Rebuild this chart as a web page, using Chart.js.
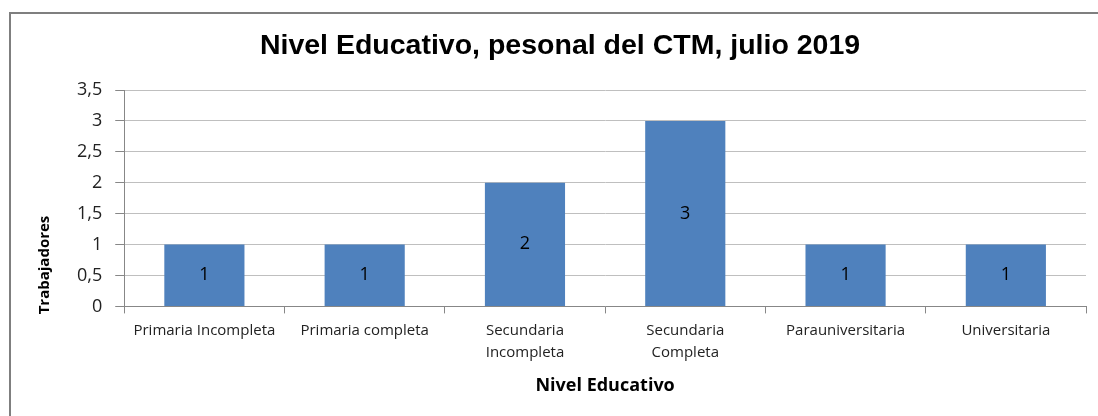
<!DOCTYPE html>
<html>
<head>
<meta charset="utf-8">
<script src="https://cdn.jsdelivr.net/npm/chart.js@4"></script>
<style>
  html, body { margin: 0; padding: 0; background: #fff; }
  #wrap { width: 1098px; height: 416px; position: relative; }
</style>
</head>
<body>
<div id="wrap"><canvas id="grafico" width="1098" height="416"></canvas></div>
<script>
const niveles = [
    "Primaria Incompleta",
    "Primaria completa",
    ["Secundaria", "Incompleta"],
    ["Secundaria", "Completa"],
    "Parauniversitaria",
    "Universitaria"
];
const trabajadores = [1, 1, 2, 3, 1, 1];
const titulo = "Nivel Educativo, pesonal del CTM, julio 2019";
const tituloX = "Nivel Educativo";
const tituloY = "Trabajadores";

// marco gris del grafico (solo se ven los bordes izquierdo y superior)
const marco = {
    id: "marco",
    beforeDraw(chart) {
        const ctx = chart.ctx;
        ctx.save();
        ctx.strokeStyle = "#7f7f7f";
        ctx.lineWidth = 2;
        ctx.beginPath();
        ctx.moveTo(10, 500);
        ctx.lineTo(10, 13);
        ctx.lineTo(1200, 13);
        ctx.stroke();
        ctx.restore();
    }
};

// titulo principal y titulo del eje Y, colocados como en Excel
const textos = {
    id: "textos",
    afterDraw(chart) {
        const ctx = chart.ctx;
        ctx.save();
        ctx.fillStyle = "#000";
        ctx.textAlign = "center";
        ctx.textBaseline = "middle";
        ctx.font = "bold 28.5px 'Liberation Sans'";
        ctx.fillText(titulo, 560, 46);
        ctx.translate(45, 265);
        ctx.rotate(-Math.PI / 2);
        ctx.font = "bold 15px 'Open Sans'";
        ctx.fillText(tituloY, 0, 0);
        ctx.restore();
    }
};

// etiquetas de valor en el centro de cada barra
const etiquetas = {
    id: "etiquetas",
    afterDatasetsDraw(chart) {
        const ctx = chart.ctx;
        const meta = chart.getDatasetMeta(0);
        ctx.save();
        ctx.fillStyle = "#000";
        ctx.font = "18px 'Open Sans'";
        ctx.textAlign = "center";
        ctx.textBaseline = "middle";
        meta.data.forEach((bar, i) => {
            const v = chart.data.datasets[0].data[i];
            ctx.fillText(String(v), bar.x, (bar.y + bar.base) / 2);
        });
        ctx.restore();
    }
};

new Chart(document.getElementById("grafico").getContext("2d"), {
    type: "bar",
    data: {
        labels: niveles,
        datasets: [{
            label: "Trabajadores",
            data: trabajadores,
            backgroundColor: "#4F81BD",
            categoryPercentage: 0.5,
            barPercentage: 1
        }]
    },
    options: {
        responsive: false,
        animation: false,
        layout: { padding: { left: 64, right: 12, top: 90, bottom: 15 } },
        plugins: {
            legend: { display: false },
            tooltip: { enabled: false },
            title: { display: false }
        },
        scales: {
            x: {
                grid: { offset: true, drawOnChartArea: false, drawTicks: true, tickLength: 7, color: "#878787" },
                border: { color: "#878787" },
                ticks: { color: "#222", font: { family: "'Open Sans'", size: 15, lineHeight: 1.5 }, maxRotation: 0, autoSkip: false, padding: 6 },
                title: { display: true, text: tituloX, color: "#000", font: { family: "'Open Sans'", size: 18, weight: "bold" }, padding: { top: 5 } }
            },
            y: {
                min: 0,
                max: 3.5,
                ticks: {
                    stepSize: 0.5,
                    color: "#222",
                    font: { family: "'Open Sans'", size: 18 },
                    padding: 13,
                    callback: v => String(v).replace(".", ",")
                },
                grid: { color: "#bfbfbf", tickLength: 9, tickColor: "#878787" },
                border: { color: "#878787" }
            }
        }
    },
    plugins: [marco, textos, etiquetas]
});
</script>
</body>
</html>
